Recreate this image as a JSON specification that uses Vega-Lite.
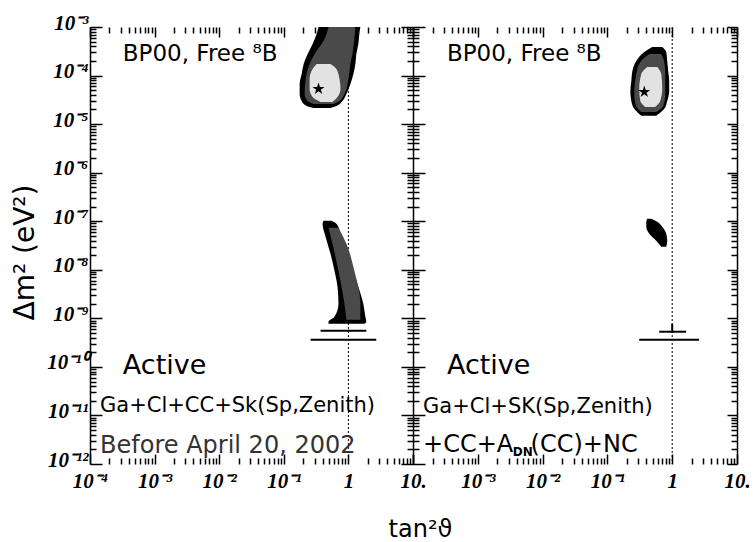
{
  "$schema": "https://vega.github.io/schema/vega-lite/v6.json",
  "padding": {"left": 11, "top": 12, "right": 5, "bottom": 0},
  "spacing": 0,
  "bounds": "flush",
  "config": {
    "font": "DejaVu Sans",
    "view": {"stroke": null},
    "axis": {"grid": false, "labelFlush": false, "labelOverlap": false, "labelFont": "Liberation Serif", "labelFontStyle": "italic", "labelFontWeight": "bold", "labelFontSize": 21, "labelColor": "black", "tickColor": "black", "tickWidth": 1.5, "domainColor": "black", "titleColor": "black", "titleFontWeight": "normal", "titleFont": "DejaVu Sans"}
  },
  "datasets": {
    "areas": [
      {"p": "L", "b": "U", "lv": 1, "dm2": 1e-3, "lo": 0.345, "hi": 1.531},
      {"p": "L", "b": "U", "lv": 1, "dm2": 7.18e-4, "lo": 0.322, "hi": 1.476},
      {"p": "L", "b": "U", "lv": 1, "dm2": 4.47e-4, "lo": 0.279, "hi": 1.426},
      {"p": "L", "b": "U", "lv": 1, "dm2": 2.78e-4, "lo": 0.234, "hi": 1.327},
      {"p": "L", "b": "U", "lv": 1, "dm2": 1.73e-4, "lo": 0.203, "hi": 1.282},
      {"p": "L", "b": "U", "lv": 1, "dm2": 1.08e-4, "lo": 0.189, "hi": 1.194},
      {"p": "L", "b": "U", "lv": 1, "dm2": 6.71e-5, "lo": 0.176, "hi": 1.074},
      {"p": "L", "b": "U", "lv": 1, "dm2": 4.18e-5, "lo": 0.176, "hi": 0.931},
      {"p": "L", "b": "U", "lv": 1, "dm2": 3.0e-5, "lo": 0.189, "hi": 0.809},
      {"p": "L", "b": "U", "lv": 1, "dm2": 2.37e-5, "lo": 0.226, "hi": 0.653},
      {"p": "L", "b": "U", "lv": 1, "dm2": 2.15e-5, "lo": 0.29, "hi": 0.528},
      {"p": "L", "b": "U", "lv": 2, "dm2": 1e-3, "lo": 0.492, "hi": 1.282},
      {"p": "L", "b": "U", "lv": 2, "dm2": 5.66e-4, "lo": 0.428, "hi": 1.236},
      {"p": "L", "b": "U", "lv": 2, "dm2": 2.78e-4, "lo": 0.3, "hi": 1.153},
      {"p": "L", "b": "U", "lv": 2, "dm2": 1.73e-4, "lo": 0.251, "hi": 1.074},
      {"p": "L", "b": "U", "lv": 2, "dm2": 8.51e-5, "lo": 0.218, "hi": 1.0},
      {"p": "L", "b": "U", "lv": 2, "dm2": 4.18e-5, "lo": 0.21, "hi": 0.867},
      {"p": "L", "b": "U", "lv": 2, "dm2": 3.0e-5, "lo": 0.234, "hi": 0.728},
      {"p": "L", "b": "U", "lv": 2, "dm2": 2.61e-5, "lo": 0.29, "hi": 0.587},
      {"p": "L", "b": "U", "lv": 3, "dm2": 1.73e-4, "lo": 0.322, "hi": 0.528},
      {"p": "L", "b": "U", "lv": 3, "dm2": 1.37e-4, "lo": 0.279, "hi": 0.653},
      {"p": "L", "b": "U", "lv": 3, "dm2": 8.51e-5, "lo": 0.251, "hi": 0.728},
      {"p": "L", "b": "U", "lv": 3, "dm2": 5.3e-5, "lo": 0.251, "hi": 0.754},
      {"p": "L", "b": "U", "lv": 3, "dm2": 3.63e-5, "lo": 0.279, "hi": 0.678},
      {"p": "L", "b": "U", "lv": 3, "dm2": 2.86e-5, "lo": 0.371, "hi": 0.567},
      {"p": "L", "b": "D", "lv": 1, "dm2": 1.02e-7, "lo": 0.412, "hi": 0.547},
      {"p": "L", "b": "D", "lv": 1, "dm2": 8.85e-8, "lo": 0.398, "hi": 0.653},
      {"p": "L", "b": "D", "lv": 1, "dm2": 4.78e-8, "lo": 0.443, "hi": 0.78},
      {"p": "L", "b": "D", "lv": 1, "dm2": 2.15e-8, "lo": 0.528, "hi": 1.0},
      {"p": "L", "b": "D", "lv": 1, "dm2": 9.53e-9, "lo": 0.609, "hi": 1.194},
      {"p": "L", "b": "D", "lv": 1, "dm2": 4.47e-9, "lo": 0.678, "hi": 1.426},
      {"p": "L", "b": "D", "lv": 1, "dm2": 2.0e-9, "lo": 0.702, "hi": 1.702},
      {"p": "L", "b": "D", "lv": 1, "dm2": 1.08e-9, "lo": 0.609, "hi": 1.828},
      {"p": "L", "b": "D", "lv": 1, "dm2": 8.51e-10, "lo": 0.492, "hi": 1.892},
      {"p": "L", "b": "D", "lv": 1, "dm2": 7.74e-10, "lo": 0.492, "hi": 1.762},
      {"p": "L", "b": "D", "lv": 2, "dm2": 7.31e-8, "lo": 0.492, "hi": 0.702},
      {"p": "L", "b": "D", "lv": 2, "dm2": 3.43e-8, "lo": 0.567, "hi": 0.931},
      {"p": "L", "b": "D", "lv": 2, "dm2": 9.53e-9, "lo": 0.702, "hi": 1.236},
      {"p": "L", "b": "D", "lv": 2, "dm2": 2.0e-9, "lo": 0.867, "hi": 1.531},
      {"p": "L", "b": "D", "lv": 2, "dm2": 9.35e-10, "lo": 0.931, "hi": 1.531},
      {"p": "R", "b": "U", "lv": 1, "dm2": 3.87e-4, "lo": 0.492, "hi": 0.702},
      {"p": "R", "b": "U", "lv": 1, "dm2": 3.06e-4, "lo": 0.371, "hi": 0.809},
      {"p": "R", "b": "U", "lv": 1, "dm2": 2.0e-4, "lo": 0.279, "hi": 0.838},
      {"p": "R", "b": "U", "lv": 1, "dm2": 1.24e-4, "lo": 0.243, "hi": 0.867},
      {"p": "R", "b": "U", "lv": 1, "dm2": 7.74e-5, "lo": 0.234, "hi": 0.899},
      {"p": "R", "b": "U", "lv": 1, "dm2": 4.82e-5, "lo": 0.226, "hi": 0.899},
      {"p": "R", "b": "U", "lv": 1, "dm2": 3.0e-5, "lo": 0.234, "hi": 0.838},
      {"p": "R", "b": "U", "lv": 1, "dm2": 2.06e-5, "lo": 0.26, "hi": 0.754},
      {"p": "R", "b": "U", "lv": 1, "dm2": 1.48e-5, "lo": 0.333, "hi": 0.567},
      {"p": "R", "b": "U", "lv": 2, "dm2": 2.78e-4, "lo": 0.443, "hi": 0.678},
      {"p": "R", "b": "U", "lv": 2, "dm2": 1.91e-4, "lo": 0.322, "hi": 0.754},
      {"p": "R", "b": "U", "lv": 2, "dm2": 1.08e-4, "lo": 0.279, "hi": 0.78},
      {"p": "R", "b": "U", "lv": 2, "dm2": 4.18e-5, "lo": 0.26, "hi": 0.78},
      {"p": "R", "b": "U", "lv": 2, "dm2": 2.37e-5, "lo": 0.279, "hi": 0.728},
      {"p": "R", "b": "U", "lv": 2, "dm2": 1.78e-5, "lo": 0.333, "hi": 0.567},
      {"p": "R", "b": "U", "lv": 3, "dm2": 1.5e-4, "lo": 0.412, "hi": 0.587},
      {"p": "R", "b": "U", "lv": 3, "dm2": 1.08e-4, "lo": 0.333, "hi": 0.678},
      {"p": "R", "b": "U", "lv": 3, "dm2": 5.3e-5, "lo": 0.31, "hi": 0.702},
      {"p": "R", "b": "U", "lv": 3, "dm2": 3.0e-5, "lo": 0.322, "hi": 0.653},
      {"p": "R", "b": "U", "lv": 3, "dm2": 2.26e-5, "lo": 0.385, "hi": 0.547},
      {"p": "R", "b": "D", "lv": 1, "dm2": 1.12e-7, "lo": 0.412, "hi": 0.475},
      {"p": "R", "b": "D", "lv": 1, "dm2": 9.73e-8, "lo": 0.398, "hi": 0.587},
      {"p": "R", "b": "D", "lv": 1, "dm2": 7.67e-8, "lo": 0.398, "hi": 0.702},
      {"p": "R", "b": "D", "lv": 1, "dm2": 5.51e-8, "lo": 0.443, "hi": 0.809},
      {"p": "R", "b": "D", "lv": 1, "dm2": 3.95e-8, "lo": 0.567, "hi": 0.838},
      {"p": "R", "b": "D", "lv": 1, "dm2": 2.97e-8, "lo": 0.678, "hi": 0.809}
    ],
    "segs": [
      {"p": "L", "x1": 0.371, "x2": 1.892, "y1": 5.56e-10, "y2": 5.56e-10},
      {"p": "L", "x1": 0.26, "x2": 2.7, "y1": 3.63e-10, "y2": 3.63e-10},
      {"p": "R", "x1": 0.631, "x2": 1.64, "y1": 5.3e-10, "y2": 5.3e-10},
      {"p": "R", "x1": 0.31, "x2": 2.6, "y1": 3.63e-10, "y2": 3.63e-10},
      {"p": "R", "x1": 1, "x2": 1, "y1": 7.7e-10, "y2": 5.0e-10}
    ],
    "stars": [
      {"p": "L", "x": 0.345, "dm2": 5.3e-5},
      {"p": "R", "x": 0.371, "dm2": 4.6e-5}
    ],
    "texts": [
      {"p": "L", "role": "head", "t": "BP00, Free ⁸B", "x": 3.22e-4, "y": 1.97e-4},
      {"p": "L", "role": "big", "t": "Active", "x": 3.22e-4, "y": 7.24e-11},
      {"p": "L", "role": "body", "t": "Ga+Cl+CC+Sk(Sp,Zenith)", "x": 1.43e-4, "y": 1.2e-11},
      {"p": "L", "role": "date", "t": "Before April 20, 2002", "x": 1.43e-4, "y": 1.72e-12},
      {"p": "R", "role": "head", "t": "BP00, Free ⁸B", "x": 3.34e-4, "y": 1.97e-4},
      {"p": "R", "role": "big", "t": "Active", "x": 3.34e-4, "y": 7.24e-11},
      {"p": "R", "role": "body", "t": "Ga+Cl+SK(Sp,Zenith)", "x": 1.43e-4, "y": 1.1e-11},
      {"p": "R", "role": "l2", "t": "+CC+A", "x": 1.43e-4, "y": 1.75e-12},
      {"p": "R", "role": "sub", "t": "DN", "x": 3.455e-3, "y": 1.45e-12},
      {"p": "R", "role": "l2", "t": "(CC)+NC", "x": 6.53e-3, "y": 1.75e-12}
    ]
  },
  "hconcat": [
    {
      "width": 323,
      "height": 437,
      "resolve": {"axis": {"x": "independent", "y": "independent"}},
      "layer": [
        {
          "data": {"values": [{}]},
          "mark": {"type": "rule", "strokeDash": [2, 2], "strokeWidth": 1, "color": "black"},
          "encoding": {
            "x": {"datum": 1, "type": "quantitative", "scale": {"type": "log", "domain": [0.0001, 10]},
              "axis": {"orient": "top", "title": null, "labels": false, "domain": false,
                "values": [0.0001,0.0002,0.0003,0.0004,0.0005,0.0006,0.0007,0.0008,0.0009,0.001,0.002,0.003,0.004,0.005,0.006,0.007,0.008,0.009,0.01,0.02,0.03,0.04,0.05,0.06,0.07,0.08,0.09,0.1,0.2,0.3,0.4,0.5,0.6,0.7,0.8,0.9,1,2,3,4,5,6,7,8,9,10],
                "tickSize": {"condition": {"test": "abs(log(datum.value)/LN10 - round(log(datum.value)/LN10)) < 0.001", "value": -10}, "value": -6}}}
          }
        },
        {
          "data": {"name": "areas"},
          "transform": [{"filter": "datum.p == 'L' && datum.lv == 1"}],
          "mark": {"type": "area", "orient": "horizontal", "color": "black", "interpolate": "monotone"},
          "encoding": {
            "y": {"field": "dm2", "type": "quantitative", "scale": {"type": "log", "domain": [1e-12, 1e-3]},
              "axis": {"orient": "left", "domain": true, "domainWidth": 1.5, "labelOffset": -4, "labelPadding": 14,
                "values": [1e-12,2e-12,3e-12,4e-12,5e-12,6e-12,7e-12,8e-12,9e-12,1e-11,2e-11,3e-11,4e-11,5e-11,6e-11,7e-11,8e-11,9e-11,1e-10,2e-10,3e-10,4e-10,5e-10,6e-10,7e-10,8e-10,9e-10,1e-9,2e-9,3e-9,4e-9,5e-9,6e-9,7e-9,8e-9,9e-9,1e-8,2e-8,3e-8,4e-8,5e-8,6e-8,7e-8,8e-8,9e-8,1e-7,2e-7,3e-7,4e-7,5e-7,6e-7,7e-7,8e-7,9e-7,1e-6,2e-6,3e-6,4e-6,5e-6,6e-6,7e-6,8e-6,9e-6,1e-5,2e-5,3e-5,4e-5,5e-5,6e-5,7e-5,8e-5,9e-5,1e-4,2e-4,3e-4,4e-4,5e-4,6e-4,7e-4,8e-4,9e-4,1e-3],
                "labelExpr": "datum.value == 1e-3 ? '10⁻³' : datum.value == 1e-4 ? '10⁻⁴' : datum.value == 1e-5 ? '10⁻⁵' : datum.value == 1e-6 ? '10⁻⁶' : datum.value == 1e-7 ? '10⁻⁷' : datum.value == 1e-8 ? '10⁻⁸' : datum.value == 1e-9 ? '10⁻⁹' : datum.value == 1e-10 ? '10⁻¹⁰' : datum.value == 1e-11 ? '10⁻¹¹' : datum.value == 1e-12 ? '10⁻¹²' : ''",
                "tickSize": {"condition": {"test": "abs(log(datum.value)/LN10 - round(log(datum.value)/LN10)) < 0.001", "value": -12}, "value": -6},
                "title": "Δm² (eV²)", "titleFontSize": 28, "titleX": -65, "titleY": 225, "titleAngle": 270, "titleAlign": "center", "titleBaseline": "middle"}},
            "x": {"field": "lo", "type": "quantitative", "scale": {"type": "log", "domain": [0.0001, 10]},
              "axis": {"orient": "bottom", "domain": false, "labelPadding": 16,
                "values": [0.0001,0.0002,0.0003,0.0004,0.0005,0.0006,0.0007,0.0008,0.0009,0.001,0.002,0.003,0.004,0.005,0.006,0.007,0.008,0.009,0.01,0.02,0.03,0.04,0.05,0.06,0.07,0.08,0.09,0.1,0.2,0.3,0.4,0.5,0.6,0.7,0.8,0.9,1,2,3,4,5,6,7,8,9,10],
                "labelExpr": "datum.value == 0.0001 ? '10⁻⁴' : datum.value == 0.001 ? '10⁻³' : datum.value == 0.01 ? '10⁻²' : datum.value == 0.1 ? '10⁻¹' : datum.value == 1 ? '1' : datum.value == 10 ? '10.' : ''",
                "tickSize": {"condition": {"test": "abs(log(datum.value)/LN10 - round(log(datum.value)/LN10)) < 0.001", "value": -10}, "value": -6},
                "title": "tan²ϑ", "titleFontSize": 24, "titleX": 330, "titleY": 72, "titleAlign": "center", "titleBaseline": "alphabetic"}},
            "x2": {"field": "hi"},
            "detail": {"field": "b"}
          }
        },
        {
          "data": {"name": "areas"},
          "transform": [{"filter": "datum.p == 'L' && datum.lv == 2"}],
          "mark": {"type": "area", "orient": "horizontal", "color": "#4a4a4a", "interpolate": "monotone"},
          "encoding": {
            "y": {"field": "dm2", "type": "quantitative", "scale": {"type": "log", "domain": [1e-12, 1e-3]}, "axis": null},
            "x": {"field": "lo", "type": "quantitative", "scale": {"type": "log", "domain": [0.0001, 10]}, "axis": null},
            "x2": {"field": "hi"},
            "detail": {"field": "b"}
          }
        },
        {
          "data": {"name": "areas"},
          "transform": [{"filter": "datum.p == 'L' && datum.lv == 3"}],
          "mark": {"type": "area", "orient": "horizontal", "color": "#e2e2e2", "interpolate": "monotone"},
          "encoding": {
            "y": {"field": "dm2", "type": "quantitative", "scale": {"type": "log", "domain": [1e-12, 1e-3]}, "axis": null},
            "x": {"field": "lo", "type": "quantitative", "scale": {"type": "log", "domain": [0.0001, 10]}, "axis": null},
            "x2": {"field": "hi"},
            "detail": {"field": "b"}
          }
        },
        {
          "data": {"name": "segs"},
          "transform": [{"filter": "datum.p == 'L'"}],
          "mark": {"type": "rule", "color": "black", "strokeWidth": 2},
          "encoding": {
            "x": {"field": "x1", "type": "quantitative", "scale": {"type": "log", "domain": [0.0001, 10]}, "axis": null},
            "x2": {"field": "x2"},
            "y": {"field": "y1", "type": "quantitative", "scale": {"type": "log", "domain": [1e-12, 1e-3]}, "axis": null},
            "y2": {"field": "y2"}
          }
        },
        {
          "data": {"name": "stars"},
          "transform": [{"filter": "datum.p == 'L'"}],
          "mark": {"type": "point", "shape": "M0,-1L0.2245,-0.309L0.951,-0.309L0.363,0.118L0.588,0.809L0,0.382L-0.588,0.809L-0.363,0.118L-0.951,-0.309L-0.2245,-0.309Z", "filled": true, "color": "black", "size": 160, "opacity": 1},
          "encoding": {
            "x": {"field": "x", "type": "quantitative", "scale": {"type": "log", "domain": [0.0001, 10]}, "axis": null},
            "y": {"field": "dm2", "type": "quantitative", "scale": {"type": "log", "domain": [1e-12, 1e-3]}, "axis": null}
          }
        },
        {
          "data": {"name": "texts"},
          "transform": [{"filter": "datum.p == 'L' && datum.role == 'head'"}],
          "mark": {"type": "text", "align": "left", "baseline": "alphabetic", "fontSize": 23, "color": "black"},
          "encoding": {
            "x": {"field": "x", "type": "quantitative", "scale": {"type": "log", "domain": [0.0001, 10]}, "axis": null},
            "y": {"field": "y", "type": "quantitative", "scale": {"type": "log", "domain": [1e-12, 1e-3]}, "axis": null},
            "text": {"field": "t"}
          }
        },
        {
          "data": {"name": "texts"},
          "transform": [{"filter": "datum.p == 'L' && datum.role == 'big'"}],
          "mark": {"type": "text", "align": "left", "baseline": "alphabetic", "fontSize": 27, "color": "black"},
          "encoding": {
            "x": {"field": "x", "type": "quantitative", "scale": {"type": "log", "domain": [0.0001, 10]}, "axis": null},
            "y": {"field": "y", "type": "quantitative", "scale": {"type": "log", "domain": [1e-12, 1e-3]}, "axis": null},
            "text": {"field": "t"}
          }
        },
        {
          "data": {"name": "texts"},
          "transform": [{"filter": "datum.p == 'L' && datum.role == 'body'"}],
          "mark": {"type": "text", "align": "left", "baseline": "alphabetic", "fontSize": 21, "color": "black"},
          "encoding": {
            "x": {"field": "x", "type": "quantitative", "scale": {"type": "log", "domain": [0.0001, 10]}, "axis": null},
            "y": {"field": "y", "type": "quantitative", "scale": {"type": "log", "domain": [1e-12, 1e-3]}, "axis": null},
            "text": {"field": "t"}
          }
        },
        {
          "data": {"name": "texts"},
          "transform": [{"filter": "datum.p == 'L' && datum.role == 'date'"}],
          "mark": {"type": "text", "align": "left", "baseline": "alphabetic", "fontSize": 24, "color": "#333333"},
          "encoding": {
            "x": {"field": "x", "type": "quantitative", "scale": {"type": "log", "domain": [0.0001, 10]}, "axis": null},
            "y": {"field": "y", "type": "quantitative", "scale": {"type": "log", "domain": [1e-12, 1e-3]}, "axis": null},
            "text": {"field": "t"}
          }
        }
      ]
    },
    {
      "width": 324,
      "height": 437,
      "resolve": {"axis": {"x": "independent", "y": "independent"}},
      "layer": [
        {
          "data": {"values": [{}]},
          "mark": {"type": "rule", "strokeDash": [2, 2], "strokeWidth": 1, "color": "black"},
          "encoding": {
            "x": {"datum": 1, "type": "quantitative", "scale": {"type": "log", "domain": [0.0001, 10]},
              "axis": {"orient": "top", "title": null, "labels": false, "domain": false,
                "values": [0.0001,0.0002,0.0003,0.0004,0.0005,0.0006,0.0007,0.0008,0.0009,0.001,0.002,0.003,0.004,0.005,0.006,0.007,0.008,0.009,0.01,0.02,0.03,0.04,0.05,0.06,0.07,0.08,0.09,0.1,0.2,0.3,0.4,0.5,0.6,0.7,0.8,0.9,1,2,3,4,5,6,7,8,9,10],
                "tickSize": {"condition": {"test": "abs(log(datum.value)/LN10 - round(log(datum.value)/LN10)) < 0.001", "value": -10}, "value": -6}}}
          }
        },
        {
          "data": {"name": "areas"},
          "transform": [{"filter": "datum.p == 'R' && datum.lv == 1"}],
          "mark": {"type": "area", "orient": "horizontal", "color": "black", "interpolate": "monotone"},
          "encoding": {
            "y": {"field": "dm2", "type": "quantitative", "scale": {"type": "log", "domain": [1e-12, 1e-3]},
              "axis": {"orient": "left", "domain": true, "domainWidth": 1.5, "labels": false, "title": null,
                "values": [1e-12,2e-12,3e-12,4e-12,5e-12,6e-12,7e-12,8e-12,9e-12,1e-11,2e-11,3e-11,4e-11,5e-11,6e-11,7e-11,8e-11,9e-11,1e-10,2e-10,3e-10,4e-10,5e-10,6e-10,7e-10,8e-10,9e-10,1e-9,2e-9,3e-9,4e-9,5e-9,6e-9,7e-9,8e-9,9e-9,1e-8,2e-8,3e-8,4e-8,5e-8,6e-8,7e-8,8e-8,9e-8,1e-7,2e-7,3e-7,4e-7,5e-7,6e-7,7e-7,8e-7,9e-7,1e-6,2e-6,3e-6,4e-6,5e-6,6e-6,7e-6,8e-6,9e-6,1e-5,2e-5,3e-5,4e-5,5e-5,6e-5,7e-5,8e-5,9e-5,1e-4,2e-4,3e-4,4e-4,5e-4,6e-4,7e-4,8e-4,9e-4,1e-3],
                "tickSize": {"condition": {"test": "abs(log(datum.value)/LN10 - round(log(datum.value)/LN10)) < 0.001", "value": 12}, "value": 6}}},
            "x": {"field": "lo", "type": "quantitative", "scale": {"type": "log", "domain": [0.0001, 10]},
              "axis": {"orient": "bottom", "domain": false, "labelPadding": 16, "title": null,
                "values": [0.0001,0.0002,0.0003,0.0004,0.0005,0.0006,0.0007,0.0008,0.0009,0.001,0.002,0.003,0.004,0.005,0.006,0.007,0.008,0.009,0.01,0.02,0.03,0.04,0.05,0.06,0.07,0.08,0.09,0.1,0.2,0.3,0.4,0.5,0.6,0.7,0.8,0.9,1,2,3,4,5,6,7,8,9,10],
                "labelExpr": "datum.value == 0.001 ? '10⁻³' : datum.value == 0.01 ? '10⁻²' : datum.value == 0.1 ? '10⁻¹' : datum.value == 1 ? '1' : datum.value == 10 ? '10.' : ''",
                "tickSize": {"condition": {"test": "abs(log(datum.value)/LN10 - round(log(datum.value)/LN10)) < 0.001", "value": -10}, "value": -6}}},
            "x2": {"field": "hi"},
            "detail": {"field": "b"}
          }
        },
        {
          "data": {"name": "areas"},
          "transform": [{"filter": "datum.p == 'R' && datum.lv == 2"}],
          "mark": {"type": "area", "orient": "horizontal", "color": "#4a4a4a", "interpolate": "monotone"},
          "encoding": {
            "y": {"field": "dm2", "type": "quantitative", "scale": {"type": "log", "domain": [1e-12, 1e-3]},
              "axis": {"orient": "left", "domain": false, "labels": false, "title": null,
                "values": [1e-12,2e-12,3e-12,4e-12,5e-12,6e-12,7e-12,8e-12,9e-12,1e-11,2e-11,3e-11,4e-11,5e-11,6e-11,7e-11,8e-11,9e-11,1e-10,2e-10,3e-10,4e-10,5e-10,6e-10,7e-10,8e-10,9e-10,1e-9,2e-9,3e-9,4e-9,5e-9,6e-9,7e-9,8e-9,9e-9,1e-8,2e-8,3e-8,4e-8,5e-8,6e-8,7e-8,8e-8,9e-8,1e-7,2e-7,3e-7,4e-7,5e-7,6e-7,7e-7,8e-7,9e-7,1e-6,2e-6,3e-6,4e-6,5e-6,6e-6,7e-6,8e-6,9e-6,1e-5,2e-5,3e-5,4e-5,5e-5,6e-5,7e-5,8e-5,9e-5,1e-4,2e-4,3e-4,4e-4,5e-4,6e-4,7e-4,8e-4,9e-4,1e-3],
                "tickSize": {"condition": {"test": "abs(log(datum.value)/LN10 - round(log(datum.value)/LN10)) < 0.001", "value": -12}, "value": -6}}},
            "x": {"field": "lo", "type": "quantitative", "scale": {"type": "log", "domain": [0.0001, 10]}, "axis": null},
            "x2": {"field": "hi"},
            "detail": {"field": "b"}
          }
        },
        {
          "data": {"name": "areas"},
          "transform": [{"filter": "datum.p == 'R' && datum.lv == 3"}],
          "mark": {"type": "area", "orient": "horizontal", "color": "#e2e2e2", "interpolate": "monotone"},
          "encoding": {
            "y": {"field": "dm2", "type": "quantitative", "scale": {"type": "log", "domain": [1e-12, 1e-3]},
              "axis": {"orient": "right", "domain": true, "domainWidth": 1.5, "labels": false, "title": null,
                "values": [1e-12,2e-12,3e-12,4e-12,5e-12,6e-12,7e-12,8e-12,9e-12,1e-11,2e-11,3e-11,4e-11,5e-11,6e-11,7e-11,8e-11,9e-11,1e-10,2e-10,3e-10,4e-10,5e-10,6e-10,7e-10,8e-10,9e-10,1e-9,2e-9,3e-9,4e-9,5e-9,6e-9,7e-9,8e-9,9e-9,1e-8,2e-8,3e-8,4e-8,5e-8,6e-8,7e-8,8e-8,9e-8,1e-7,2e-7,3e-7,4e-7,5e-7,6e-7,7e-7,8e-7,9e-7,1e-6,2e-6,3e-6,4e-6,5e-6,6e-6,7e-6,8e-6,9e-6,1e-5,2e-5,3e-5,4e-5,5e-5,6e-5,7e-5,8e-5,9e-5,1e-4,2e-4,3e-4,4e-4,5e-4,6e-4,7e-4,8e-4,9e-4,1e-3],
                "tickSize": {"condition": {"test": "abs(log(datum.value)/LN10 - round(log(datum.value)/LN10)) < 0.001", "value": -10}, "value": -6}}},
            "x": {"field": "lo", "type": "quantitative", "scale": {"type": "log", "domain": [0.0001, 10]}, "axis": null},
            "x2": {"field": "hi"},
            "detail": {"field": "b"}
          }
        },
        {
          "data": {"name": "segs"},
          "transform": [{"filter": "datum.p == 'R'"}],
          "mark": {"type": "rule", "color": "black", "strokeWidth": 2},
          "encoding": {
            "x": {"field": "x1", "type": "quantitative", "scale": {"type": "log", "domain": [0.0001, 10]}, "axis": null},
            "x2": {"field": "x2"},
            "y": {"field": "y1", "type": "quantitative", "scale": {"type": "log", "domain": [1e-12, 1e-3]}, "axis": null},
            "y2": {"field": "y2"}
          }
        },
        {
          "data": {"name": "stars"},
          "transform": [{"filter": "datum.p == 'R'"}],
          "mark": {"type": "point", "shape": "M0,-1L0.2245,-0.309L0.951,-0.309L0.363,0.118L0.588,0.809L0,0.382L-0.588,0.809L-0.363,0.118L-0.951,-0.309L-0.2245,-0.309Z", "filled": true, "color": "black", "size": 160, "opacity": 1},
          "encoding": {
            "x": {"field": "x", "type": "quantitative", "scale": {"type": "log", "domain": [0.0001, 10]}, "axis": null},
            "y": {"field": "dm2", "type": "quantitative", "scale": {"type": "log", "domain": [1e-12, 1e-3]}, "axis": null}
          }
        },
        {
          "data": {"name": "texts"},
          "transform": [{"filter": "datum.p == 'R' && datum.role == 'head'"}],
          "mark": {"type": "text", "align": "left", "baseline": "alphabetic", "fontSize": 23, "color": "black"},
          "encoding": {
            "x": {"field": "x", "type": "quantitative", "scale": {"type": "log", "domain": [0.0001, 10]}, "axis": null},
            "y": {"field": "y", "type": "quantitative", "scale": {"type": "log", "domain": [1e-12, 1e-3]}, "axis": null},
            "text": {"field": "t"}
          }
        },
        {
          "data": {"name": "texts"},
          "transform": [{"filter": "datum.p == 'R' && datum.role == 'big'"}],
          "mark": {"type": "text", "align": "left", "baseline": "alphabetic", "fontSize": 27, "color": "black"},
          "encoding": {
            "x": {"field": "x", "type": "quantitative", "scale": {"type": "log", "domain": [0.0001, 10]}, "axis": null},
            "y": {"field": "y", "type": "quantitative", "scale": {"type": "log", "domain": [1e-12, 1e-3]}, "axis": null},
            "text": {"field": "t"}
          }
        },
        {
          "data": {"name": "texts"},
          "transform": [{"filter": "datum.p == 'R' && datum.role == 'body'"}],
          "mark": {"type": "text", "align": "left", "baseline": "alphabetic", "fontSize": 21, "color": "black"},
          "encoding": {
            "x": {"field": "x", "type": "quantitative", "scale": {"type": "log", "domain": [0.0001, 10]}, "axis": null},
            "y": {"field": "y", "type": "quantitative", "scale": {"type": "log", "domain": [1e-12, 1e-3]}, "axis": null},
            "text": {"field": "t"}
          }
        },
        {
          "data": {"name": "texts"},
          "transform": [{"filter": "datum.p == 'R' && datum.role == 'l2'"}],
          "mark": {"type": "text", "align": "left", "baseline": "alphabetic", "fontSize": 24, "color": "black"},
          "encoding": {
            "x": {"field": "x", "type": "quantitative", "scale": {"type": "log", "domain": [0.0001, 10]}, "axis": null},
            "y": {"field": "y", "type": "quantitative", "scale": {"type": "log", "domain": [1e-12, 1e-3]}, "axis": null},
            "text": {"field": "t"}
          }
        },
        {
          "data": {"name": "texts"},
          "transform": [{"filter": "datum.p == 'R' && datum.role == 'sub'"}],
          "mark": {"type": "text", "align": "left", "baseline": "alphabetic", "fontSize": 12, "fontWeight": "bold", "color": "black"},
          "encoding": {
            "x": {"field": "x", "type": "quantitative", "scale": {"type": "log", "domain": [0.0001, 10]}, "axis": null},
            "y": {"field": "y", "type": "quantitative", "scale": {"type": "log", "domain": [1e-12, 1e-3]}, "axis": null},
            "text": {"field": "t"}
          }
        }
      ]
    }
  ]
}
